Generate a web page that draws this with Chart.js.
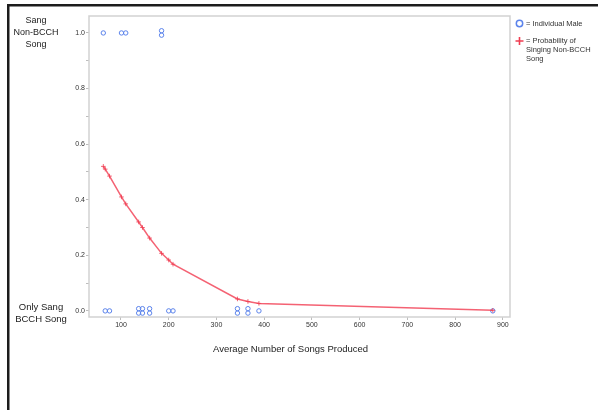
<!DOCTYPE html>
<html><head><meta charset="utf-8">
<script src="https://cdn.jsdelivr.net/npm/chart.js@4"></script>
<style>html,body{margin:0;padding:0;background:#fff}#wrap{width:598px;height:410px}</style>
</head><body><div id="wrap"><canvas id="c" width="598" height="410"></canvas></div>
<script>
// Males that sang a non-BCCH song (outcome = 1); stacked pairs are slightly jittered
const sangNonBcchSongs = [63, 101, 110, 185, 185];
const sangNonBcchY     = [1, 1, 1, 1.008, 0.992];
// Males that only sang the BCCH song (outcome = 0)
const onlyBcchSongs = [67, 76, 137, 137, 145, 145, 160, 160, 200, 209, 344, 344, 366, 366, 389, 879];
const onlyBcchY     = [0, 0, 0.008, -0.008, 0.008, -0.008, 0.008, -0.008, 0, 0, 0.008, -0.008, 0.008, -0.008, 0, 0];
// Fitted probability of singing a non-BCCH song at each observed song count
const fitSongs = [63, 67, 76, 101, 110, 137, 145, 160, 185, 200, 209, 344, 366, 389, 879];
const fitProb  = [0.52, 0.51, 0.485, 0.41, 0.385, 0.32, 0.30, 0.262, 0.207, 0.183, 0.168, 0.043, 0.034, 0.027, 0.002];

const xTickValues = [100, 200, 300, 400, 500, 600, 700, 800, 900];
const yTickValues = [0, 0.1, 0.2, 0.3, 0.4, 0.5, 0.6, 0.7, 0.8, 0.9, 1.0];
const yTickLabels = ['0.0', '', '0.2', '', '0.4', '', '0.6', '', '0.8', '', '1.0'];

const topLabel = ['Sang', 'Non-BCCH', 'Song'];
const bottomLabel = ['Only Sang', 'BCCH Song'];
const xTitle = 'Average Number of Songs Produced';
const legendMale = '= Individual Male';
const legendProb = ['= Probability of', 'Singing Non-BCCH', 'Song'];

const BLUE = 'rgb(92,132,236)';
const RED = 'rgb(240,62,82)';
const FONT = '"Liberation Sans", Arial, sans-serif';

const decor = {
  id: 'decor',
  beforeDraw(chart) {
    const ctx = chart.ctx;
    ctx.save();
    ctx.fillStyle = '#fff';
    ctx.fillRect(0, 0, chart.width, chart.height);
    // dark frame along the top and left
    ctx.fillStyle = '#1c1c1c';
    ctx.fillRect(7, 4, chart.width - 7, 2.5);
    ctx.fillRect(7, 4, 2.5, chart.height - 4);
    ctx.restore();
  },
  beforeDatasetsDraw(chart) {
    const ctx = chart.ctx, a = chart.chartArea;
    ctx.save();
    ctx.strokeStyle = '#d2d2d2';
    ctx.lineWidth = 1.5;
    ctx.strokeRect(a.left, a.top, a.right - a.left, a.bottom - a.top);
    ctx.restore();
  },
  afterDraw(chart) {
    const ctx = chart.ctx;
    const y = chart.scales.y;
    ctx.save();
    ctx.fillStyle = '#222';
    ctx.textAlign = 'center';
    ctx.textBaseline = 'middle';
    // outcome labels beside the y axis
    ctx.font = '9px ' + FONT;
    const yTop = y.getPixelForValue(1);
    topLabel.forEach((t, i) => ctx.fillText(t, 36, yTop - 12 + i * 12));
    ctx.font = '9.5px ' + FONT;
    const yBot = y.getPixelForValue(0);
    bottomLabel.forEach((t, i) => ctx.fillText(t, 41, yBot - 4 + i * 12));
    // x axis title
    ctx.font = '9.5px ' + FONT;
    ctx.textAlign = 'left';
    ctx.fillText(xTitle, 213, 349);
    // legend
    ctx.font = '7.5px ' + FONT;
    ctx.fillStyle = '#333';
    ctx.strokeStyle = BLUE;
    ctx.lineWidth = 1.5;
    ctx.beginPath();
    ctx.arc(519.5, 23.5, 3.2, 0, Math.PI * 2);
    ctx.stroke();
    ctx.fillText(legendMale, 526, 23.5);
    ctx.strokeStyle = RED;
    ctx.lineWidth = 1.6;
    ctx.beginPath();
    ctx.moveTo(515.5, 41); ctx.lineTo(523.5, 41);
    ctx.moveTo(519.5, 37); ctx.lineTo(519.5, 45);
    ctx.stroke();
    legendProb.forEach((t, i) => ctx.fillText(t, 526, 41 + i * 9));
    ctx.restore();
  }
};

new Chart(document.getElementById('c'), {
  type: 'scatter',
  data: {
    datasets: [
      {
        label: 'Probability',
        data: fitSongs.map((x, i) => ({ x, y: fitProb[i] })),
        showLine: true,
        borderColor: 'rgba(242,70,90,0.85)',
        borderWidth: 1.5,
        pointStyle: 'cross',
        pointRadius: 2.3,
        pointBorderColor: 'rgba(240,62,82,0.8)',
        pointBorderWidth: 1,
        tension: 0,
        order: 1
      },
      {
        label: 'Individual Male',
        data: sangNonBcchSongs.map((x, i) => ({ x, y: sangNonBcchY[i] }))
          .concat(onlyBcchSongs.map((x, i) => ({ x, y: onlyBcchY[i] }))),
        pointStyle: 'circle',
        pointRadius: 2.2,
        borderColor: BLUE,
        backgroundColor: 'rgba(0,0,0,0)',
        pointBorderWidth: 1,
        order: 2
      }
    ]
  },
  options: {
    responsive: false,
    animation: false,
    devicePixelRatio: 1,
    layout: { padding: { left: 0, top: 16, right: 88, bottom: 0 } },
    plugins: { legend: { display: false }, tooltip: { enabled: false } },
    scales: {
      x: {
        type: 'linear', min: 33, max: 915,
        afterFit: s => { s.height = 93; },
        afterBuildTicks: s => { s.ticks = xTickValues.map(v => ({ value: v })); },
        grid: { drawOnChartArea: false, drawTicks: true, tickLength: 3, color: '#bdbdbd' },
        border: { display: false },
        ticks: { font: { family: FONT, size: 7 }, color: '#333', padding: 1, maxRotation: 0, autoSkip: false,
                 callback: (v, i) => String(xTickValues[i]) }
      },
      y: {
        type: 'linear', min: -0.022, max: 1.061,
        afterFit: s => { s.width = 89; },
        afterBuildTicks: s => { s.ticks = yTickValues.map(v => ({ value: v })); },
        grid: { drawOnChartArea: false, drawTicks: true, tickLength: 3, color: '#bdbdbd' },
        border: { display: false },
        ticks: { font: { family: FONT, size: 7 }, color: '#333', padding: 1, autoSkip: false,
                 callback: (v, i) => yTickLabels[i] }
      }
    }
  },
  plugins: [decor]
});
</script>
</body></html>
